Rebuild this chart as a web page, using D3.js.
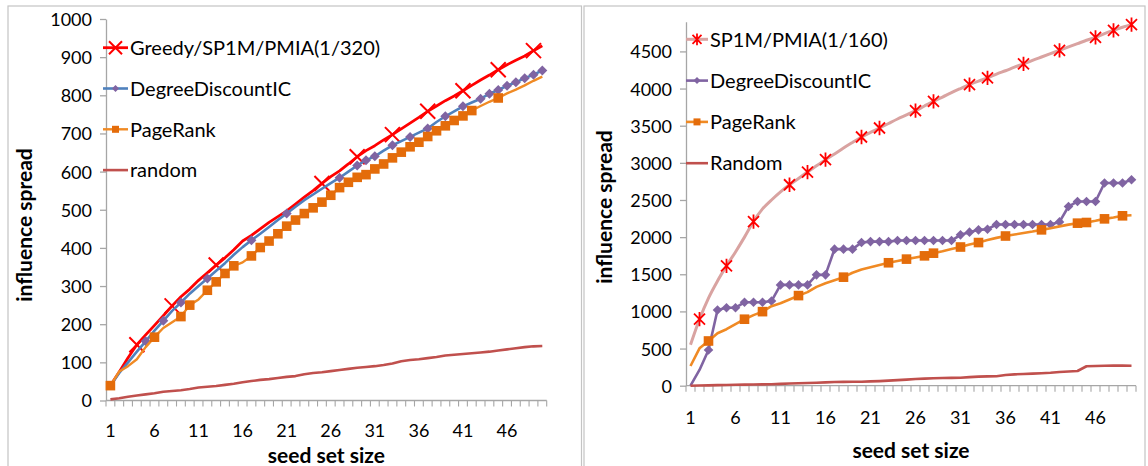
<!DOCTYPE html>
<html>
<head>
<meta charset="utf-8">
<script src="https://cdnjs.cloudflare.com/ajax/libs/d3/7.8.5/d3.min.js"></script>
<style>
    body { margin: 0; background: #fff; }
    svg { display: block; }
    text { font-family: Lato, "Open Sans", sans-serif; fill: #000; }
</style>
</head>
<body>
<svg id="chart" width="1148" height="466"></svg>
<script>
// ---- data ----
const seedSizes = d3.range(1, 51);
const xTickLabels = [1, 6, 11, 16, 21, 26, 31, 36, 41, 46];

// left chart
const leftYTicks = [0, 100, 200, 300, 400, 500, 600, 700, 800, 900, 1000];
const leftNames = ["Greedy/SP1M/PMIA(1/320)", "DegreeDiscountIC", "PageRank", "random"];
const leftGreedy = [39, 75, 112, 146, 172, 197, 222, 248, 272, 292, 315, 335, 355, 374, 395, 418, 433, 450, 467, 482,
    497, 515, 533, 550, 569, 587, 602, 620, 639, 655, 668, 683, 697, 712, 727, 742, 758, 772, 786, 798,
    812, 826, 840, 853, 867, 880, 892, 903, 917, 930];
const leftGreedyMarks = [4, 8, 13, 25, 29, 33, 37, 41, 45, 49];
const leftDegree = [39, 72, 100, 128, 155, 183, 209, 235, 257, 280, 300, 320, 340, 360, 382, 402, 420, 437, 455, 473,
    490, 508, 525, 540, 555, 570, 584, 600, 616, 630, 640, 655, 669, 680, 691, 702, 713, 730, 745, 758,
    771, 781, 791, 804, 814, 825, 834, 845, 854, 865];
const leftDegreeMarks = [5, 7, 9, 12, 17, 21, 27, 29, 30, 31, 33, 35, 37, 39, 41, 43, 44, 45, 46, 47, 48, 49, 50];
const leftPageRank = [39, 76, 90, 108, 140, 166, 190, 205, 220, 250, 265, 289, 311, 333, 353, 362, 379, 401, 418, 437,
    457, 473, 490, 505, 520, 538, 558, 572, 585, 592, 607, 620, 636, 651, 665, 677, 692, 707, 720, 734,
    746, 760, 772, 783, 793, 805, 815, 826, 838, 849];
const leftPageRankMarks = [1, 6, 9, 10, 12, 13, 14, 15, 17, 18, 19, 20, 21, 22, 23, 24, 25, 26, 27, 28, 29, 30,
    31, 32, 33, 34, 35, 36, 37, 38, 39, 40, 41, 42, 45];
const leftRandom = [3, 6, 10, 13, 16, 19, 23, 25, 27, 30, 34, 36, 38, 41, 44, 48, 51, 54, 56, 59,
    62, 64, 69, 72, 74, 77, 80, 83, 86, 88, 90, 93, 97, 103, 106, 108, 111, 114, 118, 120,
    122, 124, 126, 128, 131, 134, 137, 140, 142, 143];

// right chart
const rightYTicks = [0, 500, 1000, 1500, 2000, 2500, 3000, 3500, 4000, 4500];
const rightYMax = 4900;
const rightNames = ["SP1M/PMIA(1/160)", "DegreeDiscountIC", "PageRank", "Random"];
const rightSP1M = [550, 895, 1180, 1410, 1613, 1800, 2000, 2210, 2380, 2500, 2610, 2705, 2790, 2876, 2960, 3042, 3120, 3200, 3275, 3348,
    3410, 3469, 3530, 3590, 3645, 3702, 3765, 3827, 3885, 3945, 4000, 4053, 4100, 4143, 4195, 4240, 4288, 4332, 4380, 4425,
    4470, 4515, 4560, 4605, 4650, 4690, 4740, 4784, 4825, 4861];
const rightSP1MMarks = [2, 5, 8, 12, 14, 16, 20, 22, 26, 28, 32, 34, 38, 42, 46, 48, 50];
const rightDegree = [0, 212, 480, 1020, 1050, 1050, 1123, 1123, 1123, 1140, 1357, 1357, 1357, 1357, 1492, 1492, 1838, 1838, 1838, 1927,
    1940, 1940, 1940, 1954, 1954, 1954, 1954, 1954, 1954, 1954, 2031, 2067, 2098, 2107, 2170, 2170, 2170, 2170, 2170, 2170,
    2170, 2205, 2412, 2480, 2480, 2480, 2728, 2728, 2728, 2772];
const rightDegreeMarks = d3.range(3, 51);
const rightPageRank = [265, 503, 602, 706, 760, 830, 895, 950, 997, 1070, 1110, 1160, 1213, 1260, 1330, 1380, 1420, 1461, 1520, 1565,
    1595, 1625, 1655, 1680, 1704, 1725, 1748, 1784, 1810, 1840, 1867, 1900, 1927, 1960, 1990, 2015, 2035, 2055, 2075, 2098,
    2120, 2145, 2168, 2188, 2197, 2220, 2246, 2265, 2287, 2295];
const rightPageRankMarks = [3, 7, 9, 13, 18, 23, 25, 27, 28, 31, 33, 36, 40, 44, 45, 47, 49];
const rightRandom = [0, 3, 5, 8, 10, 12, 15, 17, 18, 20, 25, 30, 33, 36, 40, 45, 50, 52, 53, 54,
    58, 62, 68, 75, 82, 90, 95, 100, 103, 105, 108, 115, 122, 125, 128, 145, 153, 158, 162, 168,
    175, 185, 192, 198, 262, 265, 268, 270, 270, 268];

const svg = d3.select("#chart");

// panel frames
svg.append("rect").attr("x", 8).attr("y", 6).attr("width", 573.5).attr("height", 470)
    .attr("fill", "none").attr("stroke", "#c4c4c4").attr("stroke-width", 1.2);
svg.append("rect").attr("x", 584).attr("y", 6).attr("width", 561).attr("height", 470)
    .attr("fill", "none").attr("stroke", "#c4c4c4").attr("stroke-width", 1.2);

// marker shapes
function drawMarker(g, type, x, y, s, color) {
    if (type === "x") {
        g.append("path")
            .attr("d", `M${x - s},${y - s}L${x + s},${y + s}M${x - s},${y + s}L${x + s},${y - s}`)
            .attr("stroke", color).attr("stroke-width", 2).attr("fill", "none");
    } else if (type === "star") {
        g.append("path")
            .attr("d", `M${x - s},${y - s}L${x + s},${y + s}M${x - s},${y + s}L${x + s},${y - s}M${x},${y - s * 1.3}L${x},${y + s * 1.3}`)
            .attr("stroke", color).attr("stroke-width", 1.8).attr("fill", "none");
    } else if (type === "diamond") {
        g.append("path")
            .attr("d", `M${x},${y - s}L${x + s},${y}L${x},${y + s}L${x - s},${y}Z`)
            .attr("fill", color);
    } else if (type === "square") {
        g.append("rect").attr("x", x - s).attr("y", y - s)
            .attr("width", 2 * s).attr("height", 2 * s).attr("fill", color);
    }
}

function drawChart(cfg) {
    const g = svg.append("g");

    const x = d3.scaleBand().domain(seedSizes).range([cfg.x0, cfg.x1]);
    const y = d3.scaleLinear().domain([0, cfg.yMax]).range([cfg.yZero, cfg.yTop]);
    const cx = c => x(c) + x.bandwidth() / 2;

    // y axis
    const yAxis = g.append("g").attr("transform", `translate(${cfg.x0},0)`)
        .call(d3.axisLeft(y).tickValues(cfg.yTicks).tickFormat(d3.format("d"))
            .tickSize(6).tickPadding(8).tickSizeOuter(0));
    yAxis.select(".domain").attr("stroke", "#a6a6a6").attr("stroke-width", 1.3);
    yAxis.selectAll(".tick line").attr("stroke", "#a6a6a6").attr("stroke-width", 1.3);
    yAxis.selectAll(".tick text").style("font-size", "18px").attr("dy", "0.36em");

    // x axis line + boundary ticks
    g.append("line").attr("x1", cfg.x0).attr("x2", cfg.x1)
        .attr("y1", cfg.yZero).attr("y2", cfg.yZero)
        .attr("stroke", "#a6a6a6").attr("stroke-width", 1.3);
    const bounds = seedSizes.map(c => x(c)).concat([cfg.x1]);
    g.selectAll(".btick").data(bounds).enter().append("line")
        .attr("x1", d => d).attr("x2", d => d)
        .attr("y1", cfg.yZero).attr("y2", cfg.yZero + 6)
        .attr("stroke", "#a6a6a6").attr("stroke-width", 1.1);
    g.selectAll(".xlab").data(xTickLabels).enter().append("text")
        .attr("x", d => cx(d)).attr("y", cfg.xLabelY)
        .attr("text-anchor", "middle").style("font-size", "18px")
        .text(d => d);

    // axis titles
    g.append("text").attr("x", (cfg.x0 + cfg.x1) / 2).attr("y", cfg.xTitleY)
        .attr("text-anchor", "middle").style("font-size", "21px").style("font-weight", "bold")
        .text("seed set size");
    g.append("text")
        .attr("transform", `translate(${cfg.yTitleX},${cfg.yTitleY}) rotate(-90)`)
        .attr("text-anchor", "middle").attr("dy", "0.35em")
        .style("font-size", "21px").style("font-weight", "bold")
        .text("influence spread");

    // series
    cfg.series.forEach(s => {
        const line = d3.line()
            .x((d, i) => cx(seedSizes[i]))
            .y(d => y(d))
            .curve(s.smooth ? d3.curveMonotoneX : d3.curveLinear);
        g.append("path").datum(s.values)
            .attr("d", line)
            .attr("fill", "none")
            .attr("stroke", s.lineColor)
            .attr("stroke-width", s.width)
            .attr("stroke-linejoin", "round");
        s.marks.forEach(c => {
            drawMarker(g, s.marker, cx(c), y(s.values[c - 1]), s.size, s.markColor);
        });
    });

    // legend
    cfg.series.forEach((s, i) => {
        const ly = cfg.legendY + i * cfg.legendGap;
        g.append("line").attr("x1", cfg.legendX).attr("x2", cfg.legendX + cfg.legendLen)
            .attr("y1", ly).attr("y2", ly)
            .attr("stroke", s.lineColor).attr("stroke-width", s.width);
        if (s.marker) {
            drawMarker(g, s.marker, cfg.legendX + cfg.legendLen / 2, ly, s.legendSize, s.markColor);
        }
        g.append("text").attr("x", cfg.legendX + cfg.legendLen + 2).attr("y", ly)
            .attr("dy", "0.36em").style("font-size", "20px")
            .text(s.name);
    });
}

drawChart({
    x0: 106, x1: 546.7, yZero: 400.5, yTop: 19, yMax: 1000, yTicks: leftYTicks,
    xLabelY: 437, xTitleY: 463, yTitleX: 25, yTitleY: 225,
    legendX: 103, legendLen: 25, legendY: 47.7, legendGap: 40.8,
    series: [
        { name: leftNames[0], values: leftGreedy, marks: leftGreedyMarks, marker: "x", size: 7.5, legendSize: 6.5,
          lineColor: "#ff0000", markColor: "#ff0000", width: 2.8 },
        { name: leftNames[1], values: leftDegree, marks: leftDegreeMarks, marker: "diamond", size: 5, legendSize: 3.5,
          lineColor: "#4f81bd", markColor: "#8064a2", width: 2.6 },
        { name: leftNames[2], values: leftPageRank, marks: leftPageRankMarks, marker: "square", size: 4.8, legendSize: 3.5,
          lineColor: "#f08a24", markColor: "#e46c0a", width: 2.4 },
        { name: leftNames[3], values: leftRandom, marks: [], marker: null,
          lineColor: "#c0504d", markColor: "#c0504d", width: 2.6 }
    ]
});

drawChart({
    x0: 686, x1: 1136, yZero: 385.7, yTop: 21.7, yMax: rightYMax, yTicks: rightYTicks,
    xLabelY: 424, xTitleY: 458, yTitleX: 605, yTitleY: 207,
    legendX: 686, legendLen: 22, legendY: 39.3, legendGap: 41.3,
    series: [
        { name: rightNames[0], values: rightSP1M, marks: rightSP1MMarks, marker: "star", size: 5.5, legendSize: 4.5,
          lineColor: "#d9a3a1", markColor: "#ff0000", width: 3, smooth: true },
        { name: rightNames[1], values: rightDegree, marks: rightDegreeMarks, marker: "diamond", size: 4.8, legendSize: 3.5,
          lineColor: "#8064a2", markColor: "#8064a2", width: 2.6 },
        { name: rightNames[2], values: rightPageRank, marks: rightPageRankMarks, marker: "square", size: 4.8, legendSize: 3.5,
          lineColor: "#f08a24", markColor: "#e46c0a", width: 2.6 },
        { name: rightNames[3], values: rightRandom, marks: [], marker: null,
          lineColor: "#c0504d", markColor: "#c0504d", width: 2.6 }
    ]
});
</script>
</body>
</html>
